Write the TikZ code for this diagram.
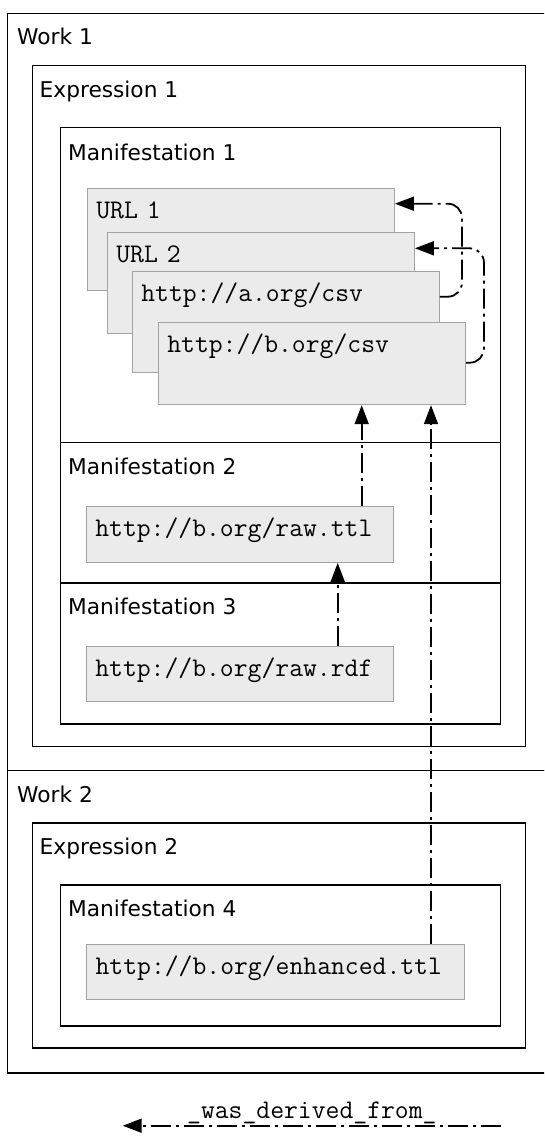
\documentclass[tikz,border=0pt]{standalone}
\usepackage{fontspec}
\setmainfont{DejaVu Sans}
\usetikzlibrary{arrows.meta,positioning,calc}
\definecolor{boxfill}{HTML}{EBEBEB}
\definecolor{boxline}{HTML}{A3A3A3}
\tikzset{
    %Define standard arrow tip
    >={Triangle[length=19pt,width=14pt]},
    % Define style for frames
    frame/.style={
           draw=black,
           line width=1.5pt},
    % Define style for titles
    title/.style={
           anchor=base west,
           inner sep=0pt,
           font=\fontsize{21.7pt}{26pt}\selectfont},
    % Define style for url boxes
    urlbox/.style={
           draw=boxline,
           fill=boxfill,
           line width=1.2pt,
           anchor=north west,
           inner xsep=9pt,
           inner ysep=0pt,
           text height=30pt,
           text width=289pt,
           align=left,
           font=\ttfamily\fontsize{26.9pt}{30pt}\selectfont},
    % Define legend text style
    legtext/.style={
           anchor=base,
           yshift=7.7pt,
           inner sep=0pt,
           font=\ttfamily\fontsize{26.9pt}{30pt}\selectfont},
    % Define arrow style
    pil/.style={
           ->,
           line width=1.8pt,
           dash pattern=on 20pt off 5pt on 3pt off 5pt}
}
\begin{document}
\begin{tikzpicture}[x=1pt, y=-1pt]
	\useasboundingbox (0,0) rectangle (544,1148);
	\clip (0,0) rectangle (544,1148);

	% Frames
	\draw[frame] (7.3,13.3) rectangle (560,770.7);
	\draw[frame] (7.3,770.7) rectangle (560,1073);
	\draw[frame] (32.3,65.7) rectangle (525.5,746.5);
	\draw[frame] (60.3,127.7) rectangle (500.7,442.7);
	\draw[frame] (60.3,442.7) rectangle (500.7,583);
	\draw[frame] (60.3,583) rectangle (500.7,724);
	\draw[frame] (32.3,823) rectangle (525.5,1048);
	\draw[frame] (60.3,885) rectangle (500.7,1026);

	% Titles
	\node[title] (work1) at (17,44.8) {Work 1};
	\node[title] (expr1) at (39.5,97.8) {Expression 1};
	\node[title] (manif1) at (68,160.5) {Manifestation 1};
	\node[title] (manif2) at (68,474.5) {Manifestation 2};
	\node[title] (manif3) at (68,614.8) {Manifestation 3};
	\node[title] (work2) at (17,802.8) {Work 2};
	\node[title] (expr2) at (39.5,854.8) {Expression 2};
	\node[title] (manif4) at (68,916.8) {Manifestation 4};

	% Stacked urls
	\node[urlbox, text depth=72pt] (url1) at (86.7,187.7) {URL 1};
	\node[urlbox, text depth=71pt] (url2) at ([xshift=20pt, yshift=-44pt]url1.north west) {URL 2};
	\node[urlbox, text depth=71pt] (aorg) at ([xshift=25pt, yshift=-39pt]url2.north west) {http://a.org/csv};
	\node[urlbox, text depth=52.3pt] (borg) at ([xshift=26pt, yshift=-51pt]aorg.north west) {http://b.org/csv};

	% Single urls
	\node[urlbox, text depth=25.7pt] (rawttl) at (85.7,506) {http://b.org/raw.ttl};
	\node[urlbox, text depth=25pt] (rawrdf) at (85.7,645.7) {http://b.org/raw.rdf};
	\node[urlbox, text depth=25pt, text width=360pt] (enh) at (86,944) {http://b.org/enhanced.ttl};

	% Derivations
	\draw[pil, rounded corners=14pt] ([yshift=-26pt]aorg.north east) -- ++(22,0) |- ([yshift=-16pt]url1.north east);
	\draw[pil, rounded corners=14pt] ([yshift=-41pt]borg.north east) -- ++(18,0) |- ([yshift=-16.6pt]url2.north east);
	\draw[pil] ([xshift=276pt]rawttl.north west) -- ([xshift=276pt]rawttl.north west |- borg.south);
	\draw[pil] ([xshift=252pt]rawrdf.north west) -- ([xshift=252pt]rawrdf.north west |- rawttl.south);
	\draw[pil] ([xshift=345pt]enh.north west) -- ([xshift=345pt]enh.north west |- borg.south);

	% Legend
	\coordinate (legstart) at (501,1125.7);
	\coordinate (legtip) at (122.7,1125.7);
	\draw[pil] (legstart) -- node[legtext] (leglabel) {\_was\_derived\_from\_} (legtip);
\end{tikzpicture}
\end{document}
